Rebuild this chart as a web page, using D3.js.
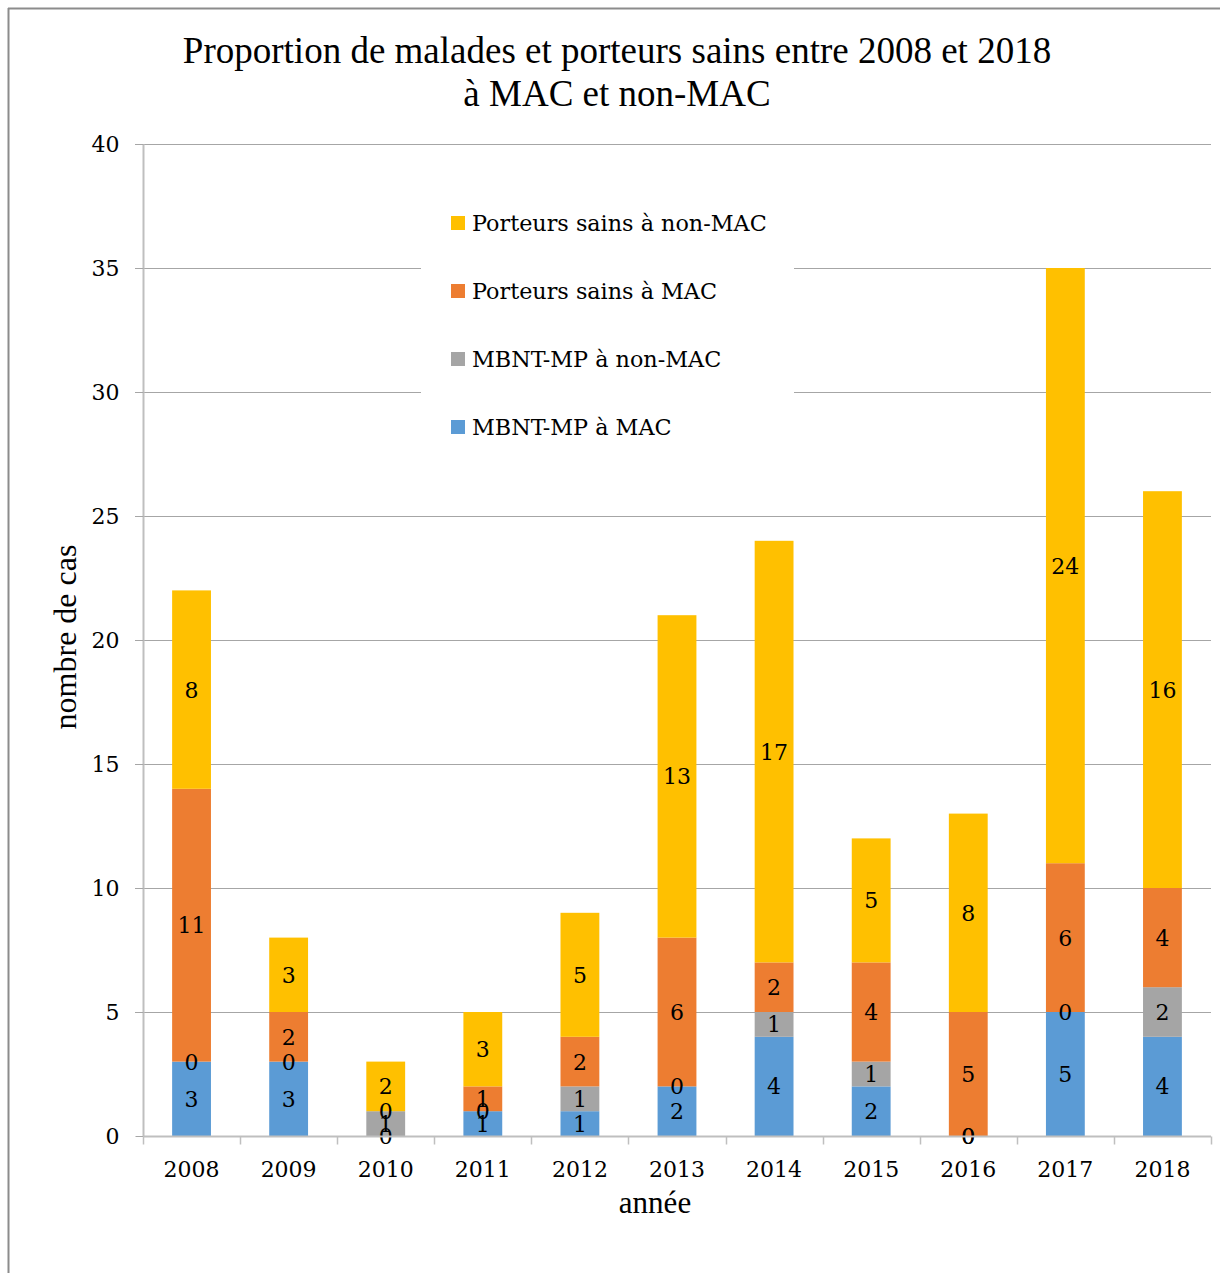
<!DOCTYPE html>
<html><head><meta charset="utf-8">
<script src="https://cdn.jsdelivr.net/npm/d3@7"></script>
<style>body{margin:0;background:#fff}svg{display:block}</style>
</head><body>
<script>
const years = ["2008","2009","2010","2011","2012","2013","2014","2015","2016","2017","2018"];
const mbntMac    = [3,3,0,1,1,2,4,2,0,5,4];
const mbntNonMac = [0,0,1,0,1,0,1,1,0,0,2];
const psMac      = [11,2,0,1,2,6,2,4,5,6,4];
const psNonMac   = [8,3,2,3,5,13,17,5,8,24,16];
const seriesNames = ["MBNT-MP à MAC","MBNT-MP à non-MAC","Porteurs sains à MAC","Porteurs sains à non-MAC"];
const seriesColors = ["#5B9BD5","#A5A5A5","#ED7D31","#FFC000"];
const yTicks = [0,5,10,15,20,25,30,35,40];

const W=1220,H=1273;
const svg=d3.select("body").append("svg").attr("width",W).attr("height",H);
const serif="'DejaVu Serif', serif";
const times="'Liberation Serif', 'Times New Roman', serif";

// border
svg.append("line").attr("x1",8).attr("x2",W).attr("y1",8.5).attr("y2",8.5).attr("stroke","#8c8c8c").attr("stroke-width",2);
svg.append("line").attr("x1",8.5).attr("x2",8.5).attr("y1",8).attr("y2",H).attr("stroke","#8c8c8c").attr("stroke-width",2);

const x=d3.scaleBand().domain(years).range([143,1211]).paddingInner(0.6).paddingOuter(0.3);
const y=d3.scaleLinear().domain([0,40]).range([1136,144]);

// gridlines
const g=svg.append("g");
g.selectAll("line.grid").data(yTicks.slice(1)).join("line")
  .attr("x1",135).attr("x2",1211).attr("y1",d=>Math.round(y(d))+0.5).attr("y2",d=>Math.round(y(d))+0.5)
  .attr("stroke","#a6a6a6").attr("stroke-width",1);

// y axis
const yAxis=d3.axisLeft(y).tickValues(yTicks).tickSize(8).tickPadding(16);
const ya=svg.append("g").attr("transform","translate(143.5,0)").call(yAxis);
ya.select(".domain").attr("stroke","#bfbfbf").attr("stroke-width",2).attr("d","M0,144V1136");
ya.selectAll(".tick line").attr("stroke","#a6a6a6");
ya.selectAll(".tick text").attr("font-family",serif).attr("font-size",22).attr("fill","#000");

// legend background (white box)
svg.append("rect").attr("x",421).attr("y",180).attr("width",373).attr("height",280).attr("fill","#fff");
const legendOrder=[3,2,1,0];
const lg=svg.append("g");
legendOrder.forEach((si,i)=>{
  const cy=223+i*68;
  lg.append("rect").attr("x",451).attr("y",cy-7).attr("width",14).attr("height",14).attr("fill",seriesColors[si]);
  lg.append("text").attr("x",472).attr("y",cy).attr("dy","0.35em").attr("font-family",serif).attr("font-size",22.3).attr("fill","#000").text(seriesNames[si]);
});

// stacked data
const rows=years.map((yr,i)=>({year:yr,s0:mbntMac[i],s1:mbntNonMac[i],s2:psMac[i],s3:psNonMac[i]}));
const stack=d3.stack().keys(["s0","s1","s2","s3"])(rows);

stack.forEach((layer,si)=>{
  svg.append("g").selectAll("rect").data(layer).join("rect")
    .attr("x",d=>x(d.data.year)).attr("width",x.bandwidth())
    .attr("y",d=>y(d[1])).attr("height",d=>y(d[0])-y(d[1]))
    .attr("fill",seriesColors[si]);
});
stack.forEach((layer,si)=>{
  svg.append("g").selectAll("text").data(layer).join("text")
    .attr("x",d=>x(d.data.year)+x.bandwidth()/2)
    .attr("y",d=>y((d[0]+d[1])/2)).attr("dy","0.36em")
    .attr("text-anchor","middle").attr("font-family",serif).attr("font-size",22).attr("fill","#000")
    .text(d=>d[1]-d[0]);
});

// x axis
const xa=svg.append("g").attr("transform","translate(0,1136.5)");
xa.append("line").attr("x1",143).attr("x2",1211).attr("stroke","#bfbfbf").attr("stroke-width",2);
d3.range(years.length+1).forEach(i=>{
  const xx=Math.round(143+i*(1211-143)/years.length)+0.5;
  xa.append("line").attr("x1",xx).attr("x2",xx).attr("y1",0).attr("y2",8).attr("stroke","#bfbfbf").attr("stroke-width",1.5);
});
xa.selectAll("text").data(years).join("text")
  .attr("x",d=>x(d)+x.bandwidth()/2).attr("y",33).attr("dy","0.35em")
  .attr("text-anchor","middle").attr("font-family",serif).attr("font-size",22).attr("fill","#000").text(d=>d);

// titles
svg.append("text").attr("x",617).attr("y",63).attr("text-anchor","middle").attr("font-family",times).attr("font-size",37).text("Proportion de malades et porteurs sains entre 2008 et 2018");
svg.append("text").attr("x",617).attr("y",106).attr("text-anchor","middle").attr("font-family",times).attr("font-size",37).text("à MAC et non-MAC");
svg.append("text").attr("x",655).attr("y",1213).attr("text-anchor","middle").attr("font-family",times).attr("font-size",31).text("année");
svg.append("text").attr("transform","translate(76,637) rotate(-90)").attr("text-anchor","middle").attr("font-family",times).attr("font-size",32).text("nombre de cas");
</script>
</body></html>
